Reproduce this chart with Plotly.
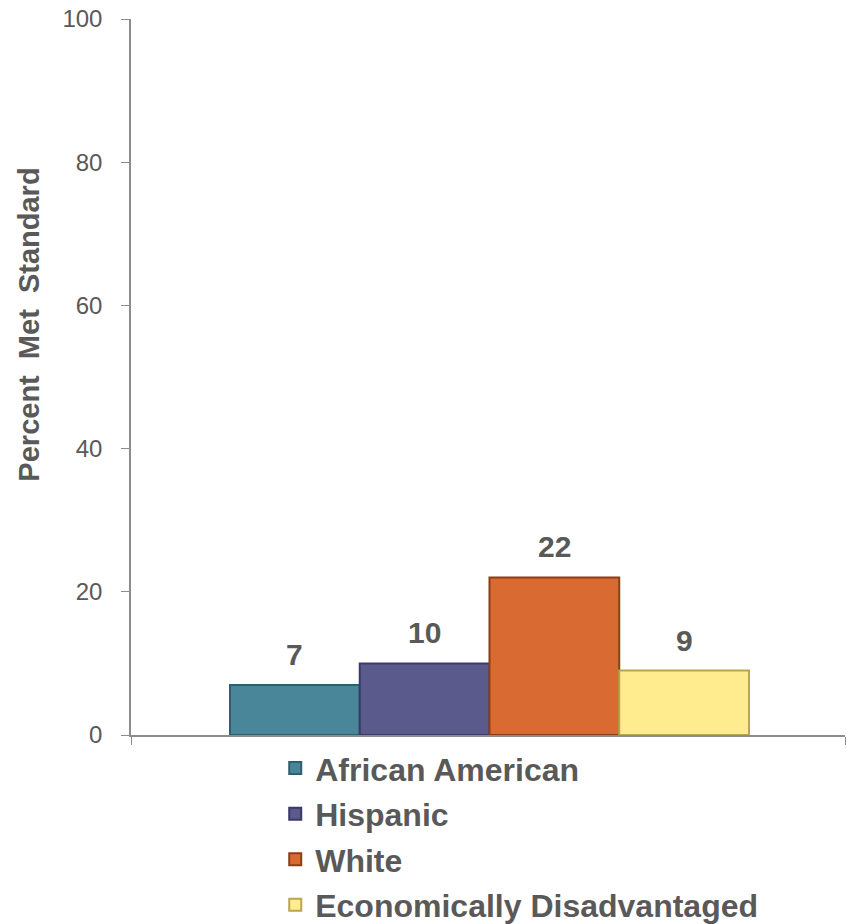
import plotly.graph_objects as go

groups = ["African American", "Hispanic", "White", "Economically Disadvantaged"]
values = [7, 10, 22, 9]
colors = ["#4A8699", "#5A5A8C", "#D86A32", "#FFEC8F"]
edges = ["#2F5F6E", "#3A3A66", "#8A3F18", "#B8A650"]
y_ticks = [0, 20, 40, 60, 80, 100]
y_title = "Percent  Met  Standard"

FONT = "Liberation Sans, Arial"
fig = go.Figure()
for i, (g, v, c, e) in enumerate(zip(groups, values, colors, edges)):
    fig.add_trace(go.Bar(
        x=[i], y=[v], width=[1], name="<b>" + g + "</b>", legendgroup=g,
        marker=dict(color=c, line=dict(color=e, width=2)),
        hovertemplate=g + ": %{y}<extra></extra>",
    ))
    fig.add_annotation(
        x=i, y=v, xref="x", yref="y", text="<b>%d</b>" % v,
        showarrow=False, yanchor="bottom", yshift=12,
        font=dict(family=FONT, size=30, color="#595959"),
    )

fig.add_annotation(
    x=-0.143, y=0.573, xref="paper", yref="paper", xanchor="center", yanchor="middle",
    text="<b>" + y_title + "</b>", textangle=-90, showarrow=False,
    font=dict(family=FONT, size=29, color="#595959"),
)

fig.update_layout(
    width=852, height=924,
    margin=dict(l=131, r=7, t=19, b=189, autoexpand=False),
    paper_bgcolor="white", plot_bgcolor="white",
    barmode="overlay",
    font=dict(family=FONT, color="#595959"),
    showlegend=True,
    legend=dict(
        orientation="v", x=0.202, xanchor="left", y=-0.008, yanchor="top",
        font=dict(size=32, color="#595959", family=FONT),
        traceorder="grouped", tracegroupgap=1, itemsizing="constant",
        itemwidth=30,
        bgcolor="rgba(0,0,0,0)",
    ),
    xaxis=dict(
        range=[-1.263, 4.24], tickvals=[-1.263, 4.24], ticktext=["", ""],
        ticks="outside", ticklen=8, tickcolor="#8C8C8C",
        showline=True, linecolor="#8C8C8C", linewidth=1.5,
        showgrid=False, zeroline=False, automargin=False,
    ),
    yaxis=dict(
        range=[0, 100], tickvals=y_ticks,
        ticks="outside", ticklen=8, tickcolor="#8C8C8C", ticklabelstandoff=14,
        showline=True, linecolor="#8C8C8C", linewidth=1.5,
        showgrid=False, zeroline=False, automargin=False,
        tickfont=dict(size=24, color="#595959"),
    ),
)

fig.write_html("out.html", config={"displayModeBar": False},
               post_script="document.body.style.margin='0';")
